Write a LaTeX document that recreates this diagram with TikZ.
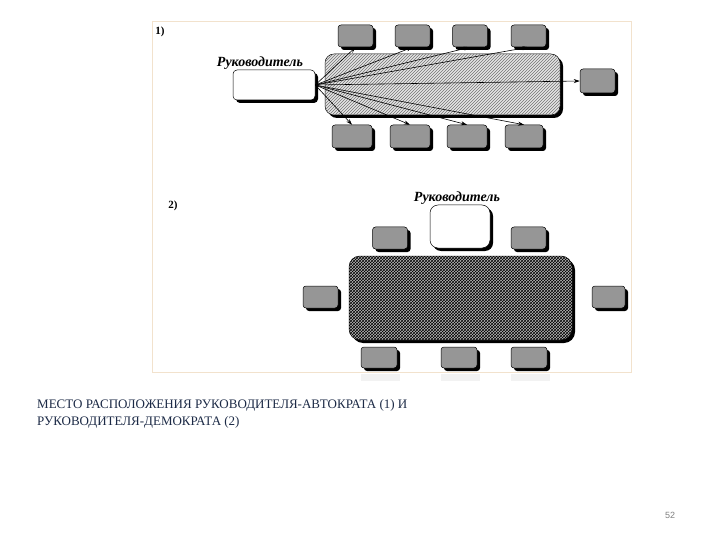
\documentclass[tikz,border=0pt]{standalone}
\usepackage{fontspec}
\setmainfont{Liberation Serif}
\newfontfamily\serf{Liberation Serif}
\newfontfamily\pagefont{Liberation Sans}
\usetikzlibrary{arrows.meta,shadows,patterns}
\definecolor{capblue}{RGB}{28,42,70}
\definecolor{chairgray}{RGB}{150,150,150}
\definecolor{framecol}{RGB}{242,226,205}
\tikzset{
  chair/.style={draw=black, line width=0.5pt, fill=chairgray, rounded corners=3pt,
    minimum width=35pt, minimum height=22pt, inner sep=0pt,
    drop shadow={shadow xshift=3pt, shadow yshift=-3pt, fill=black, opacity=1}},
  boss/.style={draw=black, line width=0.5pt, fill=white, rounded corners=4pt,
    minimum width=82pt, minimum height=30pt, inner sep=0pt,
    drop shadow={shadow xshift=3pt, shadow yshift=-3pt, fill=black, opacity=1}},
  tableA/.style={draw=black, line width=0.5pt, fill=gray!20, rounded corners=9pt,
    postaction={pattern=north east lines, pattern color=black!55},
    minimum width=235pt, minimum height=61pt, inner sep=0pt,
    drop shadow={shadow xshift=3pt, shadow yshift=-3pt, fill=black, opacity=1}},
  tableB/.style={draw=black, line width=0.5pt, fill=gray!55, rounded corners=11pt,
    postaction={pattern=crosshatch, pattern color=black},
    minimum width=223pt, minimum height=84pt, inner sep=0pt,
    drop shadow={shadow xshift=3pt, shadow yshift=-3pt, fill=black, opacity=1}},
  lbl/.style={font=\serf\bfseries\itshape\fontsize{14}{14}\selectfont, inner sep=0pt},
  num/.style={font=\serf\bfseries\fontsize{11}{11}\selectfont, inner sep=0pt},
  ray/.style={-{Stealth[length=6pt,width=4pt]}, line width=0.6pt},
  refl/.style={fill=gray!10, draw=none},
}
\begin{document}
\begin{tikzpicture}[x=1pt,y=-1pt]
\useasboundingbox[fill=white] (0,0) rectangle (720,540);
% frame of the picture
\draw[framecol, line width=0.8pt] (152,21) rectangle (631,372);
% faint reflections
\fill[refl] (361,374) rectangle (400,381);
\fill[refl] (441,374) rectangle (480,381);
\fill[refl] (511,374) rectangle (550,381);

% ---------- Part 1 ----------
\node[num] (n1) at (160,32) {1)};
\node[tableA] (tab1) at (442.5,84.5) {};
\node[chair] (t1) at (355.5,36) {};
\node[chair] (t2) at (412.5,36) {};
\node[chair] (t3) at (470,36) {};
\node[chair] (t4) at (528.5,36) {};
\node[chair, minimum height=24pt] (r1) at (597.5,81) {};
\node[chair, minimum width=40pt, minimum height=23pt] (b1) at (352,136.5) {};
\node[chair, minimum width=40pt, minimum height=23pt] (b2) at (410,136.5) {};
\node[chair, minimum width=40pt, minimum height=23pt] (b3) at (467,136.5) {};
\node[chair, minimum width=38pt, minimum height=23pt] (b4) at (524,136.5) {};
\node[boss] (lead1) at (274,85) {};
\node[lbl] (lab1) at (260,63) {Руководитель};
\foreach \k in {t1,t2,t3,t4}{\draw[ray] (lead1.east) -- (\k.south);}
\foreach \k in {b1,b2,b3,b4}{\draw[ray] (lead1.east) -- (\k.north);}
\draw[ray] (lead1.east) -- (r1.west);

% ---------- Part 2 ----------
\node[num] (n2) at (173,206) {2)};
\node[tableB] (tab2) at (460.5,298) {};
\node[boss, minimum width=60pt, minimum height=43pt, rounded corners=8pt] (lead2) at (460,226.5) {};
\node[lbl] (lab2) at (457,198) {Руководитель};
\node[chair] (tl) at (390,238) {};
\node[chair] (tr) at (528.5,238) {};
\node[chair] (lf) at (320.5,297) {};
\node[chair, minimum width=33pt] (rg) at (608.5,297) {};
\node[chair, minimum width=36pt, minimum height=21pt] (c1) at (379,357.5) {};
\node[chair, minimum width=36pt, minimum height=21pt] (c2) at (459,357.5) {};
\node[chair, minimum width=36pt, minimum height=21pt] (c3) at (529,357.5) {};

% ---------- caption ----------
\node[anchor=north west, inner sep=0pt, align=left, text=capblue,
  font=\serf\fontsize{13}{17.5}\selectfont] (cap) at (37,399)
  {МЕСТО РАСПОЛОЖЕНИЯ РУКОВОДИТЕЛЯ-АВТОКРАТА (1) И\\РУКОВОДИТЕЛЯ-ДЕМОКРАТА (2)};
\node[inner sep=0pt, text=gray, font=\pagefont\fontsize{9}{9}\selectfont] (pg) at (670,515) {52};
\end{tikzpicture}
\end{document}
